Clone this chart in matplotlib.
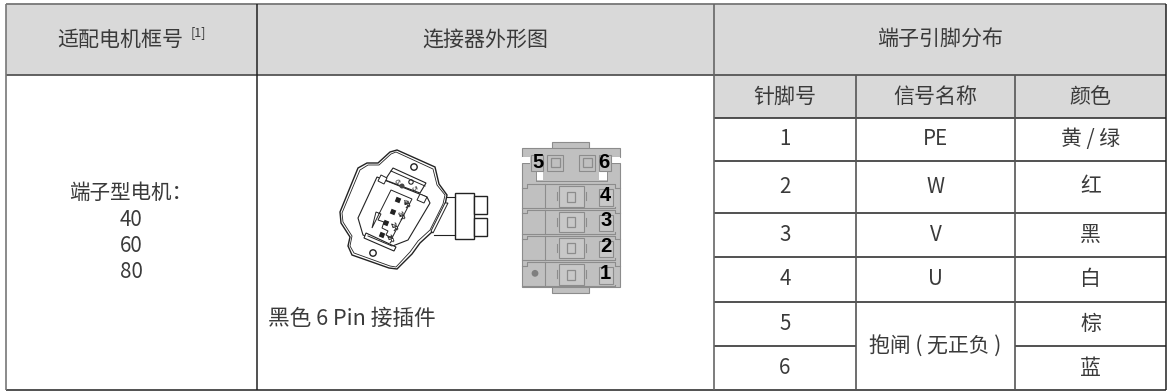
import matplotlib
matplotlib.use('Agg')
import matplotlib.pyplot as plt
from matplotlib.patches import Rectangle, Polygon, Circle
from matplotlib.transforms import Affine2D

plt.rcParams['font.family'] = ['Noto Sans CJK SC', 'DejaVu Sans']

# table content
header_main = ['适配电机框号', '连接器外形图', '端子引脚分布']
header_sub = ['针脚号', '信号名称', '颜色']
pin_no = ['1', '2', '3', '4', '5', '6']
signal = ['PE', 'W', 'V', 'U']
brake = '抱闸 ( 无正负 )'
wire_color = ['黄 / 绿', '红', '黑', '白', '棕', '蓝']
motor_lines = ['端子型电机：', '40', '60', '80']
caption = '黑色 6 Pin 接插件'
gray_pins = ['5', '6', '4', '3', '2', '1']

# grid in pixels
col_x = [6, 256.5, 714, 856, 1015, 1166]
row_y = [4, 74.5, 118, 161, 213, 257, 302, 346, 390]

TXT = '#3a3a3a'
LINE = '#333333'
HEAD = '#d9d9d9'

fig = plt.figure(figsize=(11.7, 3.92), dpi=100)
ax = fig.add_axes([0, 0, 1, 1])
ax.set_xlim(0, 1170)
ax.set_ylim(392, 0)
ax.axis('off')


def cell_text(x, y, s, size=15.1, **kw):
    ax.text(x, y, s, ha='center', va='center', fontsize=size, color=TXT, **kw)


def hline(y, x0, x1, lw=1.1, c=LINE):
    ax.plot([x0, x1], [y, y], color=c, lw=lw, solid_capstyle='butt')


def vline(x, y0, y1, lw=1.1, c=LINE):
    ax.plot([x, x], [y0, y1], color=c, lw=lw, solid_capstyle='butt')


# header fills
ax.add_patch(Rectangle((col_x[0], row_y[0]), col_x[-1] - col_x[0], row_y[1] - row_y[0], fc=HEAD, ec='none'))
ax.add_patch(Rectangle((col_x[2], row_y[1]), col_x[-1] - col_x[2], row_y[2] - row_y[1], fc=HEAD, ec='none'))

# grid lines
hline(row_y[0], col_x[0], col_x[-1], 1.3, '#777777')
hline(row_y[1], col_x[0], col_x[-1], 1.3, '#555555')
hline(row_y[2], col_x[2], col_x[-1], 1.2)
for y in row_y[3:7]:
    hline(y, col_x[2], col_x[-1], 1.1, '#222222')
hline(row_y[7], col_x[2], col_x[3], 1.1, '#222222')
hline(row_y[7], col_x[4], col_x[5], 1.1, '#222222')
hline(row_y[8], col_x[0], col_x[-1], 1.2)
vline(col_x[0], row_y[0], row_y[8], 1.2, '#777777')
vline(col_x[1], row_y[0], row_y[8], 1.1, '#222222')
vline(col_x[2], row_y[0], row_y[8], 1.2, '#666666')
vline(col_x[3], row_y[1], row_y[8], 1.2, '#555555')
vline(col_x[4], row_y[1], row_y[8], 1.2, '#555555')
vline(col_x[5], row_y[0], row_y[8], 1.1, '#222222')

# header text
cell_text(120.5, 40, header_main[0])
ax.text(191, 33, '[1]', ha='left', va='center', fontsize=9, color=TXT)
cell_text(485, 40, header_main[1])
cell_text(940, 40, header_main[2])
for i, s in enumerate(header_sub):
    cell_text((col_x[i + 2] + col_x[i + 3]) / 2, 97, s)

# body text
for i, s in enumerate(pin_no):
    cell_text((col_x[2] + col_x[3]) / 2, (row_y[i + 2] + row_y[i + 3]) / 2 - 0.5, s, size=14.8)
for i, s in enumerate(signal):
    cell_text((col_x[3] + col_x[4]) / 2, (row_y[i + 2] + row_y[i + 3]) / 2 - 0.5, s, size=14.8)
cell_text((col_x[3] + col_x[4]) / 2, 346, brake, size=15)
for i, s in enumerate(wire_color):
    cell_text((col_x[4] + col_x[5]) / 2, (row_y[i + 2] + row_y[i + 3]) / 2 - 0.5, s, size=15)
for s, y in zip(motor_lines, [193, 220, 246, 272]):
    cell_text(131, y, s, size=14.8)
ax.text(268, 319, caption, ha='left', va='center', fontsize=15.6, color=TXT)

# ---- rotated connector, line art ----
INK = '#222222'
outer = [(390, 152), (397, 150), (435, 167), (439, 184), (447, 195), (445, 205), (432, 232), (420, 243),
         (412, 254), (397, 269), (389, 268), (352, 255), (348, 246), (350, 237), (341, 223), (340, 212),
         (358, 168), (367, 163), (378, 163)]
ax.add_patch(Polygon(outer, closed=True, fc='white', ec=INK, lw=1.0))
inner_o = [(391, 154), (396, 152), (433, 169), (437, 185), (445, 195), (443, 204), (430, 230), (418, 241),
           (410, 252), (396, 267), (390, 266), (354, 253), (350, 246), (352, 236), (343, 222), (342, 213),
           (360, 170), (368, 165), (379, 165)]
ax.add_patch(Polygon(inner_o, closed=True, fill=False, ec=INK, lw=0.6))
ax.add_patch(Circle((414, 167), 3.2, fc='white', ec=INK, lw=1.0))
ax.add_patch(Circle((373, 253), 3.2, fc='white', ec=INK, lw=1.0))
# inner frame
ax.add_patch(Polygon([(377, 177), (427, 197), (430, 203), (408, 240), (390, 247), (363, 235), (358, 218)],
                     closed=True, fc='white', ec=INK, lw=0.8))
# top cap and bottom band
ax.add_patch(Polygon([(393, 168), (426, 183), (420, 193), (385, 180)], closed=True, fc='white', ec=INK, lw=0.8))
ax.plot([391, 425], [171, 186], color=INK, lw=0.7)
ax.add_patch(Polygon([(366, 233), (396, 247), (394, 251), (364, 238)], closed=True, fc='white', ec=INK, lw=0.8))
ax.plot([368, 392], [236, 246], color=INK, lw=0.7)
ax.add_patch(Polygon([(381, 175), (387, 178), (384, 184), (378, 181)], closed=True, fc='white', ec=INK, lw=0.7))
ax.add_patch(Polygon([(420, 194), (427, 197), (424, 203), (417, 200)], closed=True, fc='white', ec=INK, lw=0.7))
# stepped centre block
ax.add_patch(Polygon([(391, 190), (412, 199), (392, 238), (386, 235), (388, 231), (382, 228), (384, 222), (378, 220),
                      (381, 214), (376, 212), (372, 228), (372, 228)], closed=True, fill=False, ec=INK, lw=0.7))
# small terminals on the connector face
for cx, cy, s in [(398, 200, '4R'), (393, 212, '3R'), (386, 223, '2R'), (382, 235, '1R')]:
    ax.add_patch(Rectangle((cx - 2.5, cy - 2.5), 5, 5, fc=INK, ec='none',
                           transform=Affine2D().rotate_deg_around(cx, cy, 22) + ax.transData))
    ax.text(cx + 7, cy + 4, s, fontsize=5.5, rotation=-68, ha='center', va='center', color=INK,
            family='Liberation Sans', fontweight='bold')
ax.add_patch(Circle((402, 186), 2.5, fc='#444444', ec='none'))
ax.add_patch(Circle((411, 182), 2.2, fill=False, ec=INK, lw=0.8))
ax.text(396, 181, '6', fontsize=5.5, rotation=-68, ha='center', va='center', color=INK, family='Liberation Sans')
ax.text(413, 188, '5', fontsize=5.5, rotation=-68, ha='center', va='center', color=INK, family='Liberation Sans')
# side plug with wires
ax.plot([446, 455], [197, 197], color=INK, lw=0.8)
ax.plot([434, 455], [235, 235], color=INK, lw=0.8)
ax.add_patch(Polygon([(445, 203), (448, 203), (433, 233), (431, 231)], closed=True, fc='white', ec=INK, lw=0.7))
ax.add_patch(Rectangle((454.5, 193), 19.5, 46, fc='white', ec=INK, lw=1.0))
ax.add_patch(Rectangle((474, 196), 13, 18, fc='white', ec=INK, lw=1.0))
ax.add_patch(Rectangle((474, 218), 13, 18, fc='white', ec=INK, lw=1.0))

# ---- gray connector front view, zoom coordinates /3 ----
BODY = '#c0c0c0'
EDGE = '#8c8c8c'


def gx(v):
    return 510 + v / 3


def gy(v):
    return 130 + v / 3


def grect(x0, y0, x1, y1, fc=BODY, ec=EDGE, lw=0.8):
    ax.add_patch(Rectangle((gx(x0), gy(y0)), (x1 - x0) / 3, (y1 - y0) / 3, fc=fc, ec=ec, lw=lw))


grect(127, 37, 238, 60)
grect(127, 465, 238, 488)
grect(37, 100, 330, 472)
grect(37, 55, 330, 80)
grect(60, 76, 307, 106, ec='none')
# white notches beside the latch
ax.add_patch(Rectangle((gx(37), gy(81)), 24 / 3, 19 / 3, fc='white', ec='none'))
ax.add_patch(Rectangle((gx(306), gy(81)), 24 / 3, 19 / 3, fc='white', ec='none'))
ax.add_patch(Rectangle((gx(78), gy(122)), 22 / 3, 28 / 3, fc='white', ec='none'))
ax.add_patch(Rectangle((gx(268), gy(122)), 22 / 3, 28 / 3, fc='white', ec='none'))
ax.plot([gx(78), gx(78), gx(290), gx(290)], [gy(125), gy(152), gy(152), gy(125)], color=EDGE, lw=0.7)
grect(62, 76, 100, 122, ec=EDGE)
grect(266, 76, 304, 122, ec=EDGE)

# latch squares
for x0 in (112, 208):
    grect(x0, 75, x0 + 47, 122)
    grect(x0 + 10, 85, x0 + 37, 110, fc='none', lw=0.9)

# pin rows
for y0 in (163, 240, 318, 397):
    y1 = y0 + 72
    ax.plot([gx(37), gx(52), gx(52), gx(315), gx(315), gx(330)],
            [gy(y0 + 10), gy(y0 + 10), gy(y0), gy(y0), gy(y0 + 10), gy(y0 + 10)], color=EDGE, lw=0.8)
    ax.plot([gx(37), gx(315), gx(315)], [gy(y1), gy(y1), gy(y1 - 5)], color=EDGE, lw=0.8)
    vline_x = gx(104)
    ax.plot([vline_x, vline_x], [gy(y0), gy(y1)], color=EDGE, lw=0.8)
    grect(146, y0 + 6, 222, y1 - 5, fc='#c8c8c8')
    grect(170, y0 + 22, 196, y1 - 20, fc='none', lw=0.9)
    ax.plot([gx(140), gx(140)], [gy(y0 + 24), gy(y0 + 48)], color=EDGE, lw=0.8)
    ax.plot([gx(228), gx(228)], [gy(y0 + 24), gy(y0 + 48)], color=EDGE, lw=0.8)
    grect(266, y0 + 14, 310, y1 - 8, fc='#c8c8c8')
ax.add_patch(Circle((gx(75), gy(430)), 3.4, fc='#7f7f7f', ec='none'))

# pin numbers
num_pos = [(85, 98), (282, 98), (287, 197), (289, 271), (289, 348), (287, 430)]
for s, (nx, ny) in zip(gray_pins, num_pos):
    ax.text(gx(nx), gy(ny), s, ha='center', va='center', fontsize=14.5, color='black',
            family='Liberation Sans', fontweight='bold')

fig.savefig('out.png', dpi=100)
